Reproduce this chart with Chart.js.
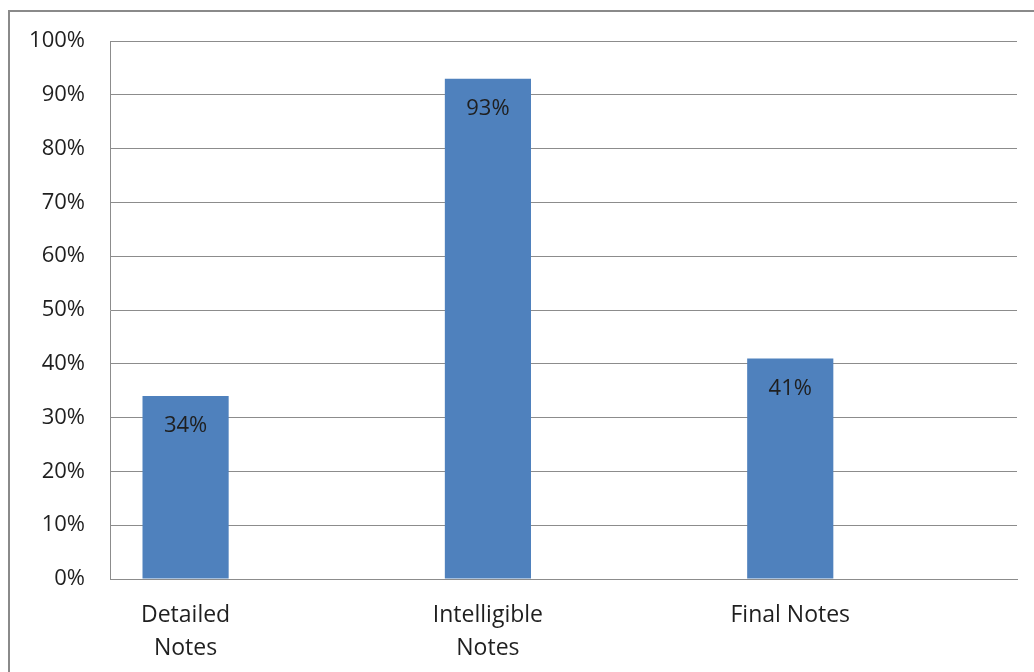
<!DOCTYPE html>
<html>
<head>
<meta charset="utf-8">
<script src="https://cdn.jsdelivr.net/npm/chart.js@4"></script>
<style>
  html, body { margin: 0; padding: 0; background: #fff; overflow: hidden; }
  #frame {
    position: absolute; left: 8px; top: 10px;
    width: 1100px; height: 740px;
    border: 2px solid #8a8a8a;
  }
  #wrap { position: absolute; left: 0; top: 0; width: 1034px; height: 672px; }
</style>
</head>
<body>
<div id="frame"></div>
<div id="wrap"><canvas id="myChart"></canvas></div>
<script>
  const categories = [['Detailed', 'Notes'], ['Intelligible', 'Notes'], 'Final Notes'];
  const shares = [34, 93, 41];
  const yTicks = [0, 10, 20, 30, 40, 50, 60, 70, 80, 90, 100];

  const FONT = "'Open Sans', sans-serif";
  const GRID = '#8c8c8c';

  // value labels just below the top of each bar
  const barLabels = {
    id: 'barLabels',
    afterDatasetsDraw(chart) {
      const ctx = chart.ctx;
      const meta = chart.getDatasetMeta(0);
      ctx.save();
      ctx.font = '22px ' + FONT;
      ctx.fillStyle = '#1f1f1f';
      ctx.textAlign = 'center';
      ctx.textBaseline = 'middle';
      meta.data.forEach((bar, i) => {
        ctx.fillText(shares[i] + '%', bar.x, bar.y + 30);
      });
      ctx.restore();
    }
  };

  const ctx = document.getElementById('myChart');

  new Chart(ctx, {
    type: 'bar',
    data: {
      datasets: [{
        data: shares.map((v, i) => ({ x: i, y: v })),
        backgroundColor: '#4f81bd',
        borderWidth: 0,
        barPercentage: 0.57,
        categoryPercentage: 0.5
      }]
    },
    options: {
      responsive: true,
      maintainAspectRatio: false,
      animation: false,
      layout: { padding: { left: 0, top: 41, right: 17, bottom: 0 } },
      plugins: {
        legend: { display: false },
        tooltip: { enabled: false }
      },
      scales: {
        x: {
          type: 'linear',
          offset: false,
          min: -0.25,
          max: 2.75,
          afterBuildTicks(scale) { scale.ticks = categories.map((c, i) => ({ value: i })); },
          grid: { display: false, drawTicks: false },
          border: { display: true, color: GRID, width: 1 },
          ticks: {
            color: '#1f1f1f',
            font: { family: FONT, size: 23, lineHeight: 1.43 },
            padding: 20,
            maxRotation: 0,
            autoSkip: false,
            callback: v => categories[v]
          },
          afterFit(scale) { scale.height = 93; }
        },
        y: {
          min: 0,
          max: 100,
          afterBuildTicks(scale) { scale.ticks = yTicks.map(v => ({ value: v })); },
          grid: { color: GRID, lineWidth: 1, drawTicks: false },
          border: { display: true, color: GRID, width: 1 },
          ticks: {
            color: '#1f1f1f',
            font: { family: FONT, size: 22 },
            padding: 25,
            callback: v => v + '%'
          },
          afterFit(scale) { scale.width = 110; }
        }
      }
    },
    plugins: [barLabels]
  });
</script>
</body>
</html>
